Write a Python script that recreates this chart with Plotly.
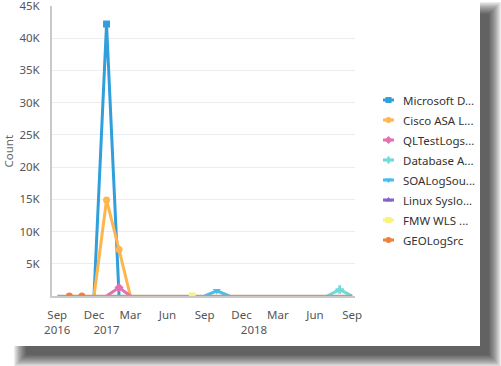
import plotly.graph_objects as go

# ---------------- data ----------------
months = ["2016-09-01", "2016-10-01", "2016-11-01", "2016-12-01", "2017-01-01",
          "2017-02-01", "2017-03-01", "2017-04-01", "2017-05-01", "2017-06-01",
          "2017-07-01", "2017-08-01", "2017-09-01", "2017-10-01", "2017-11-01",
          "2017-12-01", "2018-01-01", "2018-02-01", "2018-03-01", "2018-04-01",
          "2018-05-01", "2018-06-01", "2018-07-01", "2018-08-01", "2018-09-01"]

series_names = ["Microsoft D...", "Cisco ASA L...", "QLTestLogs...", "Database A...",
                "SOALogSou...", "Linux Syslo...", "FMW WLS ...", "GEOLogSrc"]

ms_dates = ["2016-12-01", "2017-01-01", "2017-02-01"]
ms_vals = [0, 42200, 0]
cisco_dates = ["2016-12-01", "2017-01-01", "2017-02-01", "2017-03-01"]
cisco_vals = [0, 14900, 7200, 0]
ql_dates = ["2017-01-01", "2017-02-01", "2017-03-01"]
ql_vals = [0, 1300, 0]
db_dates = ["2018-07-01", "2018-08-01", "2018-09-01"]
db_vals = [0, 1000, 0]
soa_dates = ["2017-09-01", "2017-10-01", "2017-11-01"]
soa_vals = [0, 800, 0]
linux_dates = ["2017-04-01", "2017-05-01", "2017-06-01"]
linux_vals = [0, 0, 0]
fmw_dates = ["2017-08-01"]
fmw_vals = [0]
geo_dates = months
geo_vals = [0, 0, 0, 0, 0, 0, 0, 0, 0, 0, 0, 0, 0, 0, 0, 0, 0, 0, 0, 0, 0, 0, 0, 0, 0]
geo_marked = ["2016-10-01", "2016-11-01"]

y_tickvals = [5000, 10000, 15000, 20000, 25000, 30000, 35000, 40000, 45000]
y_ticktext = ["5K", "10K", "15K", "20K", "25K", "30K", "35K", "40K", "45K"]
x_tickvals = ["2016-09-01", "2016-12-01", "2017-01-01", "2017-03-01", "2017-06-01",
              "2017-09-01", "2017-12-01", "2018-01-01", "2018-03-01", "2018-06-01",
              "2018-09-01"]
x_ticktext = ["Sep<br>2016", "Dec", " <br>2017", "Mar", "Jun", "Sep", "Dec",
              " <br>2018", "Mar", "Jun", "Sep"]

# ---------------- styles ----------------
colors = ["#309fdb", "#ffb54d", "#e371b2", "#6ddbdb", "#47bdef", "#8561c8", "#f7f37b", "#ed813e"]
symbols = ["square", "circle", "diamond", "cross", "triangle-down", "triangle-up", "square", "circle"]
geo_line_color = "#cd966b"
FONT = "Noto Sans"
FS = 11.5

# pixel geometry
L, R_MARGIN, T, B = 52, 21, 6, 70
W, H = 501, 366
PW = W - L - R_MARGIN   # 428
PH = H - T - B          # 290


def X(px):
    return (px - L) / PW


def Y(py):
    return (T + PH - py) / PH


fig = go.Figure()


def add_series(i, dates, vals, marked=None, line_color=None, lw=3):
    name = series_names[i]
    if len(dates) > 1:
        fig.add_trace(go.Scatter(x=dates, y=vals, mode="lines", name=name,
                                 line=dict(color=line_color or colors[i], width=lw),
                                 showlegend=False, hoverinfo="x+y+name"))
    if marked is None:
        mx = [d for d, v in zip(dates, vals) if v > 0 or len(dates) == 1]
        my = [v for d, v in zip(dates, vals) if v > 0 or len(dates) == 1]
    else:
        mx = [d for d in dates if d in marked]
        my = [v for d, v in zip(dates, vals) if d in marked]
    if mx:
        fig.add_trace(go.Scatter(x=mx, y=my, mode="markers", name=name,
                                 marker=dict(color=colors[i], symbol=symbols[i], size=7,
                                             line=dict(width=0)),
                                 showlegend=False))


add_series(0, ms_dates, ms_vals)
add_series(1, cisco_dates, cisco_vals)
add_series(2, ql_dates, ql_vals)
add_series(3, db_dates, db_vals)
add_series(4, soa_dates, soa_vals)
add_series(5, linux_dates, linux_vals, lw=1.5)
add_series(7, geo_dates, geo_vals, marked=geo_marked, line_color=geo_line_color, lw=2.5)
add_series(6, fmw_dates, fmw_vals)

# ---------------- manual legend (pixel-space axes) ----------------
for i, nm in enumerate(series_names):
    yrow = 100 + 20 * i
    fig.add_trace(go.Scatter(x=[383, 394], y=[yrow, yrow], mode="lines",
                             line=dict(color=colors[i], width=3),
                             xaxis="x2", yaxis="y2", showlegend=False, hoverinfo="skip"))
    fig.add_trace(go.Scatter(x=[388.5], y=[yrow], mode="markers",
                             marker=dict(color=colors[i], symbol=symbols[i], size=6,
                                         line=dict(width=0)),
                             xaxis="x2", yaxis="y2", showlegend=False, hoverinfo="skip"))
    fig.add_annotation(x=401, y=yrow, xref="x2", yref="y2", text=nm, showarrow=False,
                       xanchor="left", yanchor="middle",
                       font=dict(family=FONT, size=FS, color="#333333"))

# ---------------- card + shadow ----------------
shapes = []
n = 12
for k in range(n):
    e = -6 + k * 12 / (n - 1)
    shapes.append(dict(type="rect", xref="paper", yref="paper", layer="below",
                       x0=X(20 - e), x1=X(495 + e), y0=Y(8 - e), y1=Y(361 + e),
                       fillcolor="black", opacity=0.075, line=dict(width=0)))
shapes.append(dict(type="rect", xref="paper", yref="paper", layer="below",
                   x0=X(-5), x1=X(480), y0=Y(-5), y1=Y(346),
                   fillcolor="white", line=dict(width=0)))

fig.add_annotation(x=X(7.5), y=0.5, xref="paper", yref="paper", text="Count",
                   textangle=-90, showarrow=False, xanchor="center", yanchor="middle",
                   font=dict(family=FONT, size=FS, color="#666666"))

fig.update_layout(
    width=W, height=H,
    margin=dict(l=L, r=R_MARGIN, t=T, b=B, autoexpand=False),
    paper_bgcolor="white", plot_bgcolor="rgba(0,0,0,0)",
    font=dict(family=FONT, size=FS, color="#555555"),
    showlegend=False,
    shapes=shapes,
    xaxis=dict(domain=[0, X(355)], type="date", range=["2016-08-19", "2018-09-08"],
               tickmode="array", tickvals=x_tickvals, ticktext=x_ticktext, tickangle=0,
               showgrid=False, zeroline=False, showline=True, linecolor="#c9c9c9",
               linewidth=2, ticks="", automargin=False, ticklabelstandoff=7,
               tickfont=dict(family=FONT, size=FS, color="#555555")),
    yaxis=dict(range=[0, 45000.5], tickmode="array", tickvals=y_tickvals, ticktext=y_ticktext,
               showgrid=True, gridcolor="#e8edf1", gridwidth=1, zeroline=False,
               showline=True, linecolor="#c9c9c9", linewidth=2, ticks="", automargin=False,
               ticklabeloverflow="allow",
               ticklabelstandoff=8, tickfont=dict(family=FONT, size=FS, color="#555555")),
    xaxis2=dict(domain=[X(380), 1], range=[380, 480], visible=False, fixedrange=True),
    yaxis2=dict(domain=[0, 1], range=[296, 6], visible=False, fixedrange=True, anchor="x2"),
)

fig.write_html("out.html", config={"displayModeBar": False},
               post_script="document.body.style.margin='0';document.body.style.overflow='hidden';")
